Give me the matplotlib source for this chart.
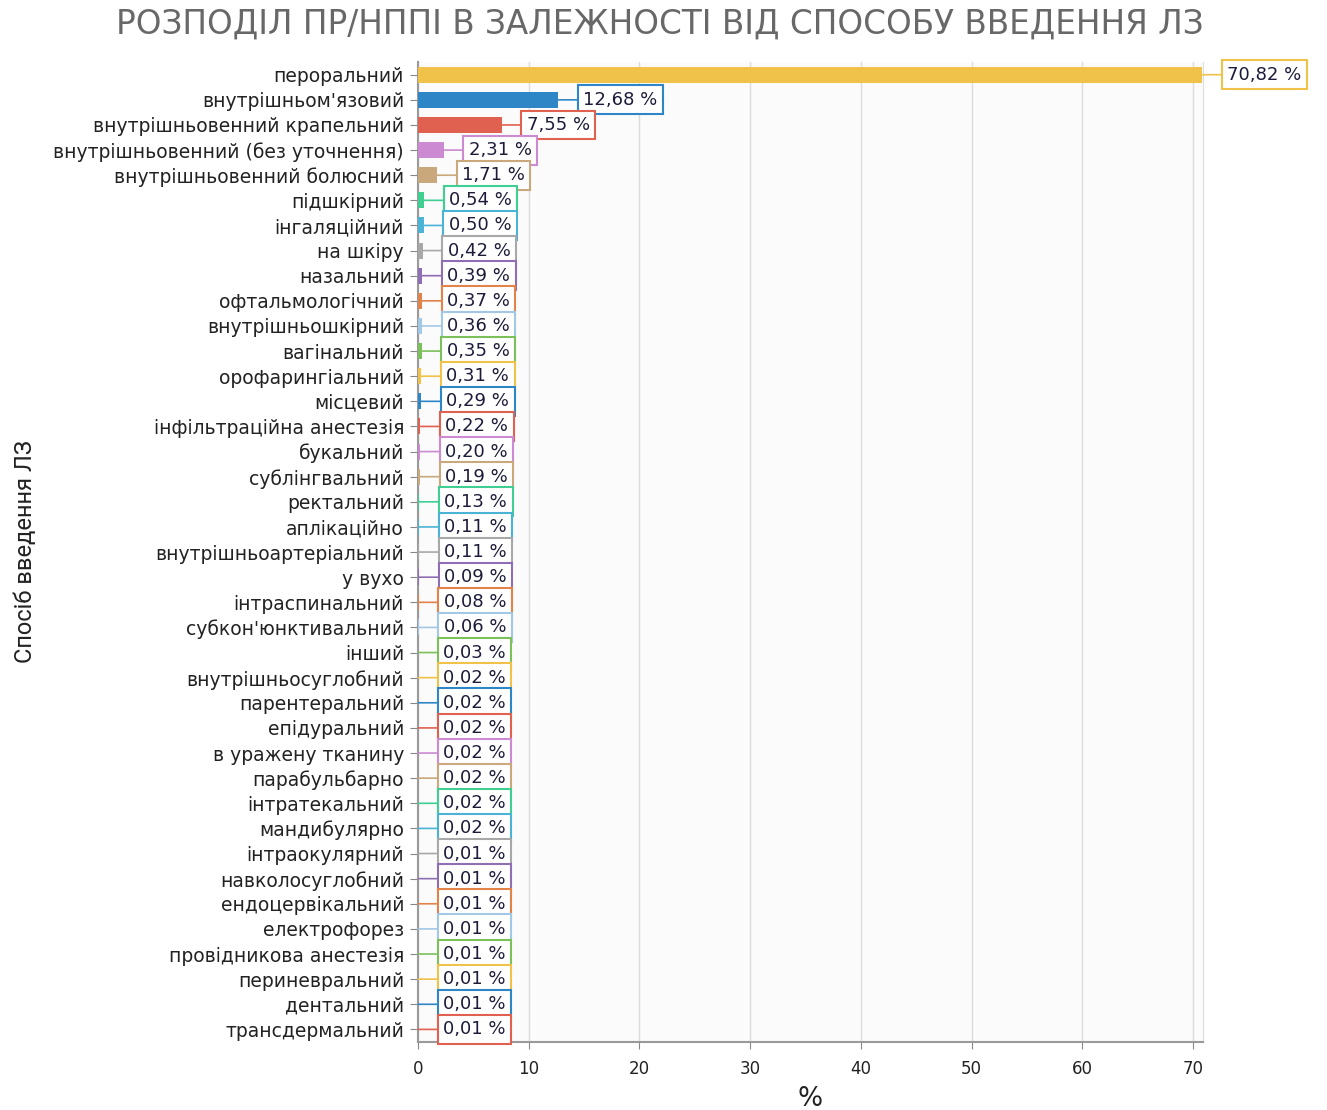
import matplotlib
matplotlib.use("Agg")
import matplotlib.pyplot as plt
import numpy as np

categories = [
    "пероральний", "внутрішньом'язовий", "внутрішньовенний крапельний",
    "внутрішньовенний (без уточнення)", "внутрішньовенний болюсний",
    "підшкірний", "інгаляційний", "на шкіру", "назальний", "офтальмологічний",
    "внутрішньошкірний", "вагінальний", "орофарингіальний", "місцевий",
    "інфільтраційна анестезія", "букальний", "сублінгвальний", "ректальний",
    "аплікаційно", "внутрішньоартеріальний", "у вухо", "інтраспинальний",
    "субкон'юнктивальний", "інший", "внутрішньосуглобний", "парентеральний",
    "епідуральний", "в уражену тканину", "парабульбарно", "інтратекальний",
    "мандибулярно", "інтраокулярний", "навколосуглобний", "ендоцервікальний",
    "електрофорез", "провідникова анестезія", "периневральний", "дентальний",
    "трансдермальний",
]
values = [
    70.82, 12.68, 7.55, 2.31, 1.71, 0.54, 0.50, 0.42, 0.39, 0.37,
    0.36, 0.35, 0.31, 0.29, 0.22, 0.20, 0.19, 0.13, 0.11, 0.11,
    0.09, 0.08, 0.06, 0.03, 0.02, 0.02, 0.02, 0.02, 0.02, 0.02,
    0.02, 0.01, 0.01, 0.01, 0.01, 0.01, 0.01, 0.01, 0.01,
]
palette = ["#f0c24a", "#2f86c6", "#e0614f", "#cc8ad2", "#c9a97c", "#3fcf93",
           "#4bb3d6", "#a8a8a8", "#8f6eb4", "#e2844a", "#a3c8e6", "#7cc05a"]
colors = [palette[i % len(palette)] for i in range(len(values))]

fig = plt.figure(figsize=(13.27, 11.10), dpi=100)
ax = fig.add_axes([0.315, 0.0613, 0.5916, 0.8827])
ax.set_facecolor("#fbfbfb")

y = np.arange(len(values))
ax.barh(y, values, height=0.64, color=colors, zorder=3)

for i, (v, c) in enumerate(zip(values, colors)):
    txt = f"{v:.2f}".replace(".", ",") + " %"
    ax.annotate(txt, xy=(v, i), xytext=(25, 0), textcoords="offset pixels",
                ha="left", va="center", fontsize=13, color="#1c1c3a",
                bbox=dict(boxstyle="square,pad=0.3", fc="white", ec=c, lw=1.5),
                arrowprops=dict(arrowstyle="-", color=c, lw=1.2,
                                shrinkA=0, shrinkB=0),
                annotation_clip=False, zorder=4)

ax.set_ylim(len(values) - 0.5, -0.5)
ax.set_xlim(0, 70.9)
ax.set_yticks(y)
ax.set_yticklabels(categories, fontsize=13.5, color="#222222")
ax.set_xticks(range(0, 71, 10))
ax.tick_params(axis="x", labelsize=12, colors="#888888", labelcolor="#222222",
               length=5, pad=8)
ax.tick_params(axis="y", colors="#888888", labelcolor="#222222", length=6, pad=4)
ax.grid(axis="x", color="#dcdcdc", lw=1, zorder=0)

ax.spines["top"].set_visible(False)
ax.spines["right"].set_color("#dddddd")
ax.spines["left"].set_color("#9a9a9a")
ax.spines["bottom"].set_color("#9a9a9a")
ax.spines["left"].set_linewidth(1.5)
ax.spines["bottom"].set_linewidth(1.5)

ax.set_xlabel("%", fontsize=19, color="#222222", labelpad=6)
ax.set_ylabel("Спосіб введення ЛЗ", fontsize=17, color="#222222",
              family=["Roboto", "DejaVu Sans"], fontstretch="condensed")
ax.yaxis.set_label_coords(-0.485, 0.5)

fig.suptitle("РОЗПОДІЛ ПР/НППІ В ЗАЛЕЖНОСТІ ВІД СПОСОБУ ВВЕДЕННЯ ЛЗ",
             x=0.497, y=0.993, fontsize=23.5, color="#686868")

fig.savefig("out.png", dpi=100, facecolor="white")
